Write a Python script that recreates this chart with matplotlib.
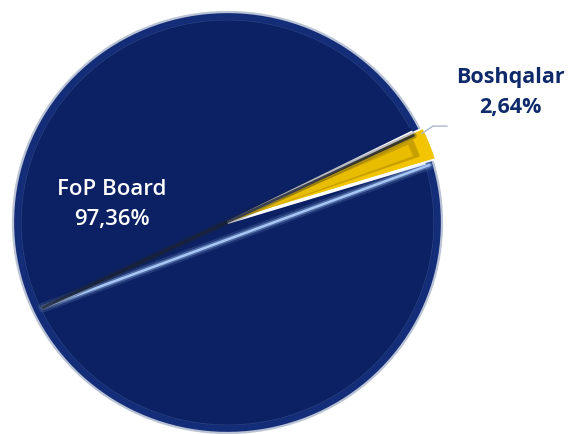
import numpy as np
import matplotlib
matplotlib.use("Agg")
import matplotlib.pyplot as plt
from matplotlib.patches import Wedge

plt.rcParams["font.family"] = ["Open Sans", "DejaVu Sans"]

# data
labels = ["Boshqalar", "FoP Board"]
shares = [2.64, 97.36]
colors = ["#f2c500", "#0b2163"]

NAVY_TEXT = "#0f2a6a"
START = 17.0  # degrees, small slice first (counter-clockwise)


def fmt_pct(v):
    return f"{v:.2f}%".replace(".", ",")


def arc(r, t1, t2, **kw):
    t = np.deg2rad(np.linspace(t1, t2, 300))
    ax.plot(r * np.cos(t), r * np.sin(t), **kw)


fig = plt.figure(figsize=(5.68, 4.34), dpi=100)
ax = fig.add_axes([0, 0, 1, 1])

wedges, _ = ax.pie(shares, colors=colors, startangle=START, counterclock=True,
                   explode=[0.02, 0], radius=1.0,
                   wedgeprops=dict(edgecolor="white", linewidth=2.2))

# bevel-ish outer rim on the big slice
big = wedges[1]
ax.add_patch(Wedge(big.center, 1.0, big.theta1, big.theta2, width=0.035,
                   facecolor="#142d78", edgecolor="none", zorder=2))
arc(1.0, big.theta1 + 0.3, big.theta2 - 0.3, color="#b9c3d5", linewidth=1.6, zorder=3)
arc(0.962, big.theta1 + 1.5, big.theta2 - 1.5, color="#3a5699", linewidth=0.6,
    alpha=0.6, zorder=3)

# inner darker bevel on the small slice
small = wedges[0]
sc = small.center
ax.add_patch(Wedge(sc, 0.93, small.theta1 + 2.2, small.theta2 - 2.0,
                   facecolor="#c9a000", edgecolor="none", zorder=3))
ax.add_patch(Wedge(sc, 0.90, small.theta1 + 3.0, small.theta2 - 2.8,
                   facecolor="#e8bd00", edgecolor="none", zorder=3))

# highlight ridges along the slice borders
mid = np.deg2rad((small.theta1 + small.theta2) / 2)
left = 0.95 * np.array([np.cos(mid + np.pi + 0.06), np.sin(mid + np.pi + 0.06)])
lo = np.deg2rad(small.theta1 - 0.8)
hi = np.deg2rad(small.theta2 - 1.0)
p_lo = 0.98 * np.array([np.cos(lo), np.sin(lo)])
p_hi = 0.96 * np.array([np.cos(hi), np.sin(hi)])
for lw, a in [(7, 0.15), (4, 0.35), (1.8, 1.0)]:
    ax.plot([left[0], p_lo[0]], [left[1], p_lo[1]], color="#a6c6f5",
            linewidth=lw, alpha=a, solid_capstyle="round", zorder=4)
for lw, a in [(5, 0.3), (2, 0.8)]:
    ax.plot([left[0], p_hi[0]], [left[1], p_hi[1]], color="#1c2233",
            linewidth=lw, alpha=a, solid_capstyle="round", zorder=4)

# leader line for the small slice
tip = np.deg2rad(small.theta2 - 1.5)
x0, y0 = 1.0 * np.cos(tip), 1.0 * np.sin(tip)
ax.plot([x0, 0.958, 1.023], [y0, 0.458, 0.458], color="#a9b8cc",
        linewidth=1.0, zorder=5)

# labels
ax.text(1.32, 0.69, labels[0], ha="center", va="center", fontsize=15.5,
        fontweight="bold", color=NAVY_TEXT)
ax.text(1.317, 0.545, fmt_pct(shares[0]), ha="center", va="center", fontsize=15.5,
        fontweight="bold", color=NAVY_TEXT)
ax.text(-0.54, 0.155, labels[1], ha="center", va="center", fontsize=16,
        fontweight="semibold", color="white", zorder=6)
ax.text(-0.54, 0.012, fmt_pct(shares[1]), ha="center", va="center", fontsize=16,
        fontweight="semibold", color="white", zorder=6)

ax.set_aspect("auto")
ax.set_xlim(-1.0606, 1.5874)
ax.set_ylim(-1.0048, 1.057)
ax.axis("off")

fig.savefig("out.png", dpi=100)
